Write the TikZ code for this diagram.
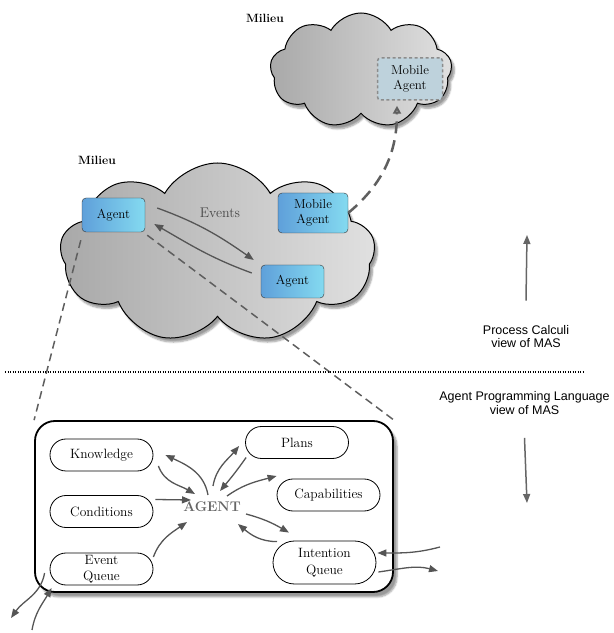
\documentclass[tikz,border=0pt]{standalone}
\usepackage{fontspec}
\newfontfamily\labelsans{Liberation Sans}
\usetikzlibrary{arrows.meta,shapes.symbols,shapes.misc,shadows.blur}
\definecolor{agentL}{RGB}{95,160,218}
\definecolor{agentR}{RGB}{132,218,240}
\definecolor{mobfill}{RGB}{190,210,220}
\definecolor{arrowgray}{RGB}{85,85,85}
\definecolor{dashgray}{RGB}{95,95,95}
\tikzset{
  milieu/.style={cloud, cloud puffs=9, cloud puff arc=120, draw=black, line width=1pt,
    left color=black!34, right color=black!12,
    blur shadow={shadow xshift=3pt,shadow yshift=-4pt,shadow blur steps=6}},
  agentbox/.style={draw=black!80, rounded corners=4pt, left color=agentL, right color=agentR,
    font=\fontsize{13}{15}\selectfont, align=center, inner sep=0pt},
  partbox/.style={rounded rectangle, draw, line width=0.8pt, fill=white, minimum width=103pt,
    minimum height=32pt, font=\fontsize{13.5}{16.5}\selectfont, align=center, inner sep=0pt},
  flow/.style={draw=arrowgray, line width=1.3pt, -{Triangle[length=9pt,width=7pt]}},
  viewline/.style={dashgray, line width=1.5pt, dash pattern=on 8pt off 5pt},
  viewarrow/.style={draw=black!60, line width=1.5pt, -{Triangle[length=9pt,width=7pt]}},
  viewtext/.style={font=\labelsans\fontsize{12.5}{13.5}\selectfont, align=center},
  milieutext/.style={font=\fontsize{12}{14}\selectfont\bfseries}
}
\begin{document}
\begin{tikzpicture}[x=1pt,y=1pt]
	\useasboundingbox (0,0) rectangle (614,633);
	% the two milieus
	\node[milieu, aspect=1.6, minimum width=182pt, minimum height=115pt] (env2) at (361,562.5) {};
	\node[milieu, aspect=1.75, minimum width=315pt, minimum height=180pt] (env) at (217.5,380) {};
	\node[milieutext] (m2) at (265,615) {Milieu};
	\node[milieutext] (m1) at (97,473) {Milieu};
	\node[agentbox, minimum width=63pt, minimum height=34pt] (ag1) at (113.5,418) {Agent};
	\node[agentbox, minimum width=70pt, minimum height=40pt] (mob) at (313,420) {Mobile\\Agent};
	\node[agentbox, minimum width=63pt, minimum height=33pt] (ag2) at (292.5,351.5) {Agent};
	\node[draw=black!45, line width=1.5pt, dash pattern=on 3pt off 2.5pt, rounded corners=3pt, fill=mobfill,
	  minimum width=65pt, minimum height=42pt, align=center, font=\fontsize{13}{15}\selectfont] (mob2) at (410,554) {Mobile\\Agent};
	\node[text=black!72, font=\fontsize{14}{16}\selectfont] (ev) at (220,420) {Events};
	\draw[flow] ([shift={(12,7)}]ag1.east) to[out=-20,in=145] ([shift={(-7,21.5)}]ag2.west);
	\draw[flow] ([shift={(-9,8.5)}]ag2.west) to[out=160,in=-30] ([shift={(9,-9)}]ag1.east);
	\draw[dashgray, line width=2.5pt, dash pattern=on 12pt off 7pt, -{Triangle[open,length=8pt,width=8pt]}]
	  (mob.east) to[out=40,in=-90] ([shift={(-13,-5)}]mob2.south);
	% the agent itself
	\node[draw, line width=1.8pt, rounded corners=20pt, fill=white, minimum width=358pt, minimum height=171pt,
	  blur shadow={shadow xshift=4pt,shadow yshift=-5pt,shadow blur steps=6}] (apl) at (214,126.5) {};
	\draw[viewline] ([shift={(-1,-8)}]ag1.south west) -- (apl.north west);
	\draw[viewline] ([shift={(2,-3)}]ag1.south east) -- (apl.north east);
	\node[partbox] (know) at (101.5,178) {Knowledge};
	\node[partbox] (cond) at (101.5,121.5) {Conditions};
	\node[partbox] (evq) at (101.5,64) {Event\\Queue};
	\node[partbox] (plans) at (297,190.5) {Plans};
	\node[partbox] (capab) at (328.5,138) {Capabilities};
	\node[partbox, minimum height=43pt] (intq) at (324.5,70.5) {Intention\\Queue};
	\node[text=black!60, font=\fontsize{14}{16}\selectfont\bfseries] (core) at (212,126) {AGENT};
	\draw[flow] ([shift={(-4,12)}]core.center) to[out=100,in=-25] ([xshift=12pt]know.east);
	\draw[flow] ([shift={(5,-11)}]know.east) to[out=-70,in=150] ([shift={(-17,13)}]core.center);
	\draw[flow] ([shift={(2,12)}]cond.east) -- ([shift={(-21,7)}]core.center);
	\draw[flow] ([shift={(0,12)}]evq.east) to[out=70,in=215] ([shift={(-25,-15)}]core.center);
	\draw[flow] ([shift={(1,21)}]core.center) to[out=80,in=230] ([shift={(-6,-3.5)}]plans.west);
	\draw[flow] ([shift={(1,-15)}]plans.west) to[out=235,in=50] ([shift={(8,16)}]core.center);
	\draw[flow] ([shift={(15,11)}]core.center) to[out=35,in=195] ([shift={(0,19)}]capab.west);
	\draw[flow] ([shift={(34,-7)}]core.center) to[out=-15,in=150] ([shift={(-35.5,8)}]intq.north);
	\draw[flow] ([shift={(-47.5,-1)}]intq.north) to[out=180,in=-40] ([shift={(26,-17)}]core.center);
	\coordinate (inq) at (440,86);
	\coordinate (outq) at (438,62);
	\coordinate (evout) at (11,15);
	\coordinate (evin) at (32,3);
	\draw[flow] (inq) to[out=195,in=0] ([shift={(1,9.5)}]intq.east);
	\draw[flow] ([shift={(2,-9.5)}]intq.east) to[out=8,in=165] (outq);
	\draw[flow] ([shift={(-5,-4)}]evq.west) to[out=-100,in=55] (evout);
	\draw[flow] (evin) to[out=80,in=240] ([shift={(2,-19)}]evq.west);
	% the two views
	\coordinate (sepL) at (5,261);
	\coordinate (sepR) at (583,261);
	\draw[line width=1.2pt, dash pattern=on 1.2pt off 1.3pt] (sepL) -- (sepR);
	\node[viewtext] (pc) at (526,296.5) {Process Calculi\\view of MAS};
	\node[viewtext] (apv) at (524.5,230) {Agent Programming Language\\view of MAS};
	\coordinate (uptip) at (527,398);
	\coordinate (downtip) at (527,130);
	\draw[viewarrow] ([yshift=21pt]pc.north) -- (uptip);
	\draw[viewarrow] ([yshift=-20pt]apv.south) -- (downtip);
\end{tikzpicture}
\end{document}
